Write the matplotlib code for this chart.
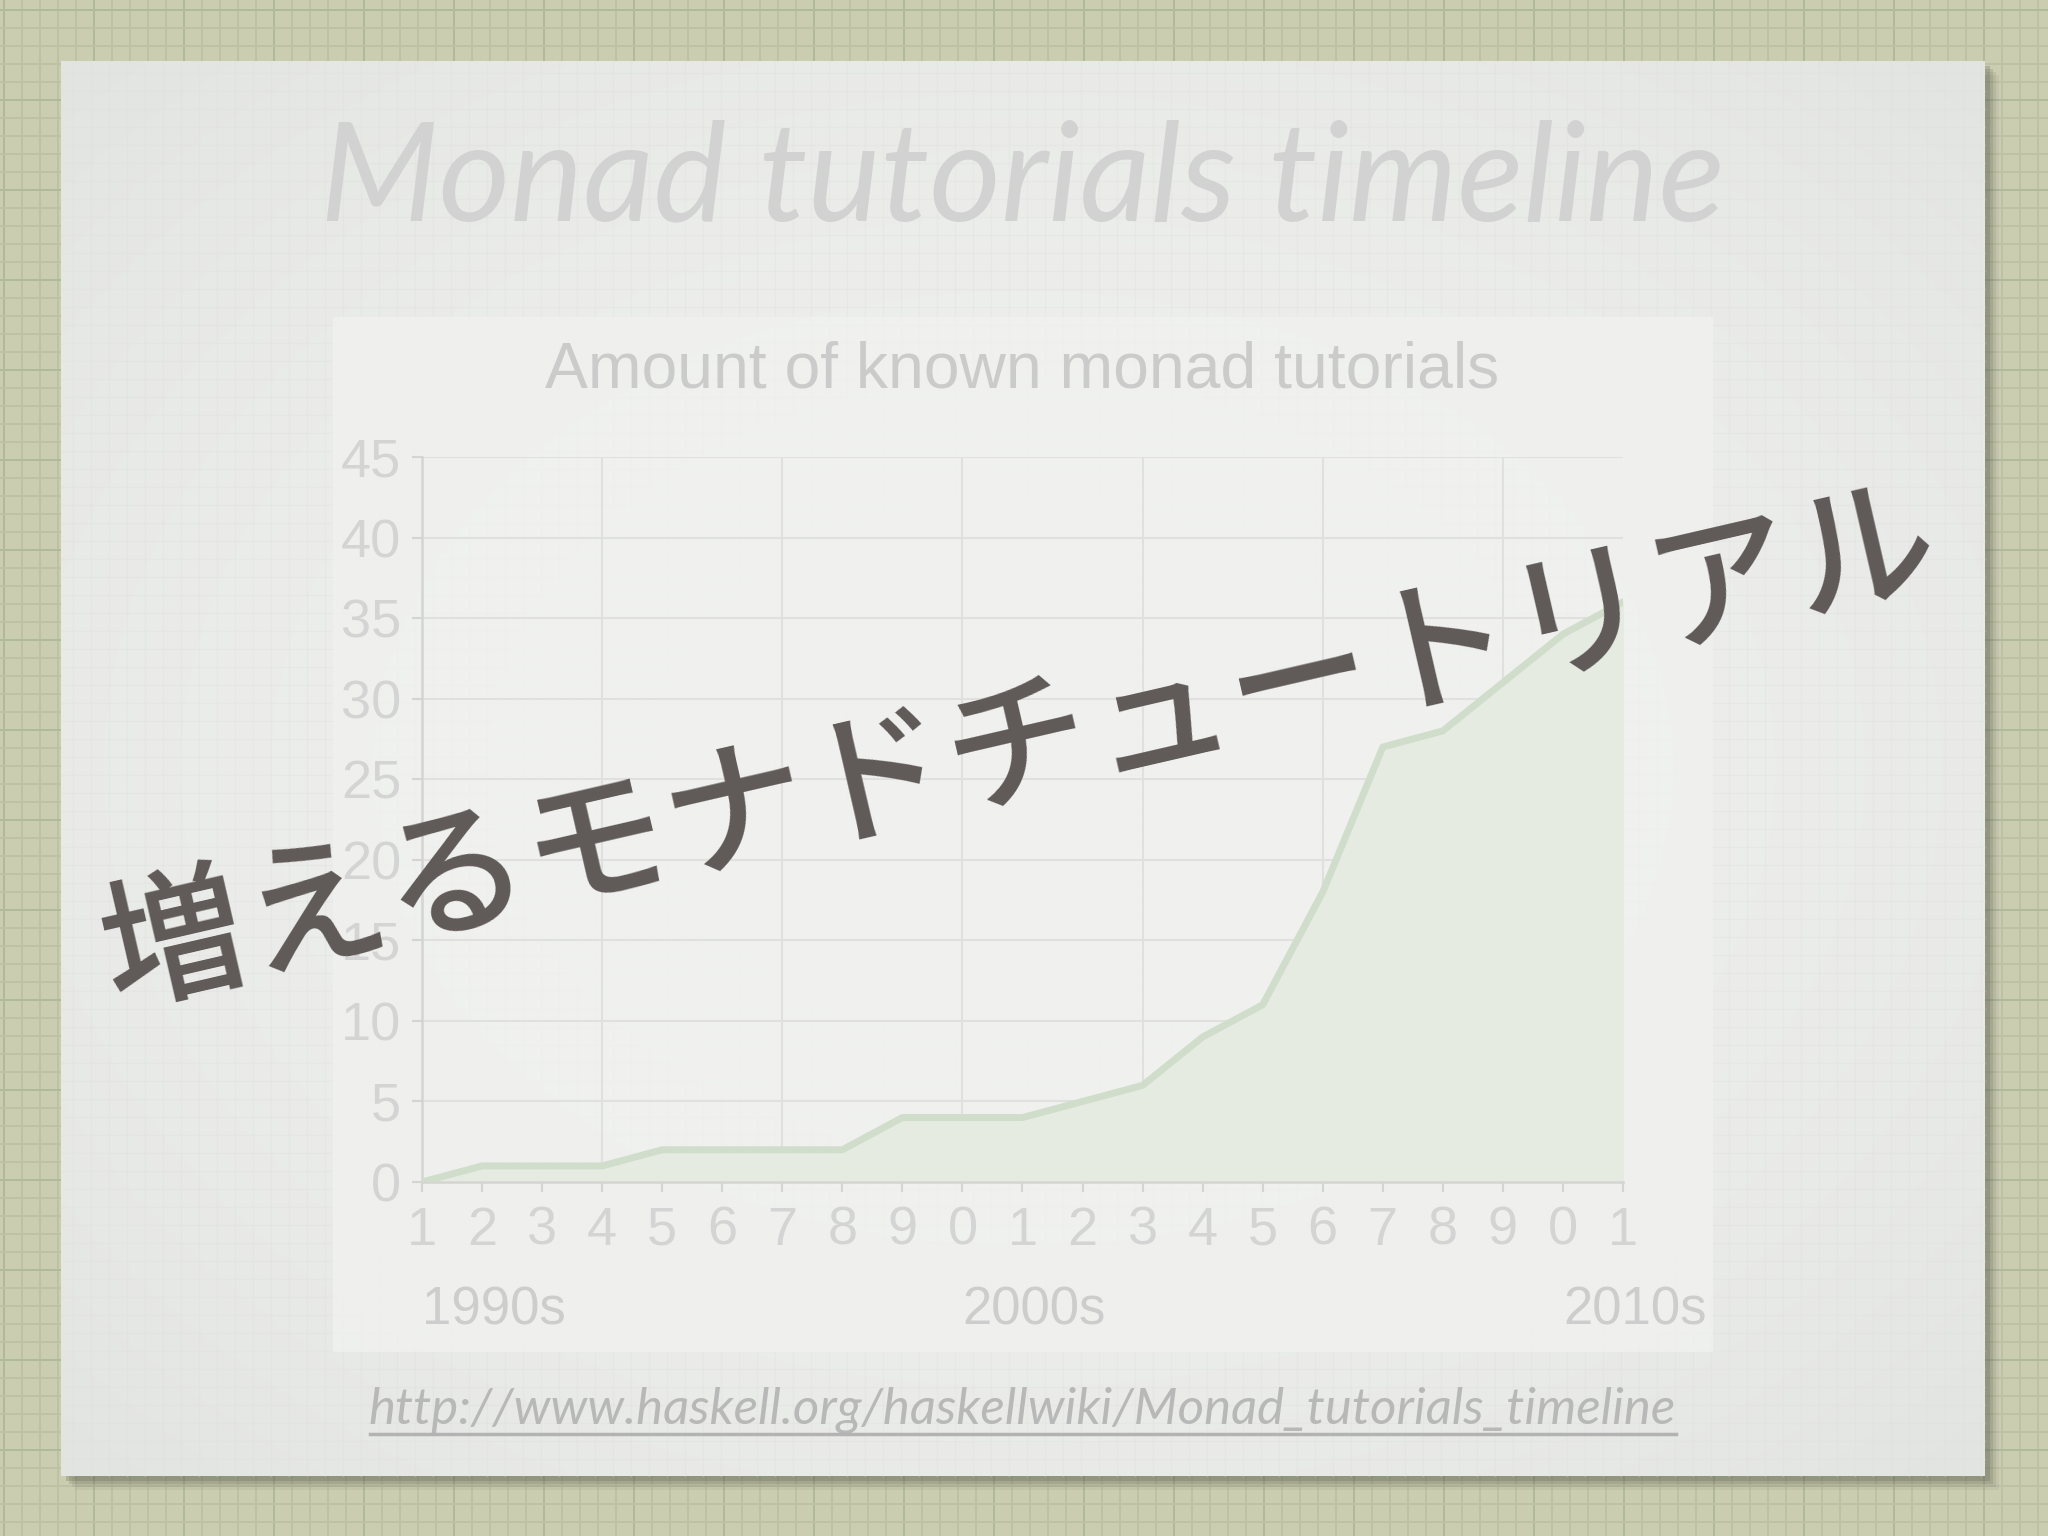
import numpy as np
import matplotlib.pyplot as plt
from matplotlib.patches import Rectangle
from matplotlib.colors import LinearSegmentedColormap
import matplotlib.transforms as mtransforms

# data
years = list(range(1991, 2012))
tutorials = [0, 1, 1, 1, 2, 2, 2, 2, 4, 4, 4, 5, 6, 9, 11, 18, 27, 28, 31, 34, 36]
year_labels = [str(y % 10) for y in years]
grid_years = years[3::3]
decades = ['1990s', '2000s', '2010s']
decade_start = [1991, 2000, 2010]
y_ticks = list(range(0, 50, 5))

slide_title = 'Monad tutorials timeline'
chart_title = 'Amount of known monad tutorials'
source_url = 'http://www.haskell.org/haskellwiki/Monad_tutorials_timeline'
overlay = '増えるモナドチュートリアル'

W, H = 2048, 1536
fig = plt.figure(figsize=(W / 100, H / 100), dpi=100)
renderer = fig.canvas.get_renderer()


def fit_width(txt, width_px):
    w = txt.get_window_extent(renderer=renderer).width
    txt.set_fontsize(txt.get_fontsize() * width_px / w)


# ---- background: grid paper, card, shadow ----
bg = fig.add_axes([0, 0, 1, 1])
bg.set_xlim(0, W)
bg.set_ylim(H, 0)
bg.axis('off')
bg.add_patch(Rectangle((0, 0), W, H, color='#cacdb0', zorder=0))
step = 18
for i, x in enumerate(np.arange(4, W, step)):
    bg.axvline(x, color='#b0b99a' if i % 5 == 0 else '#bec2a5', lw=1.4, zorder=1)
for i, y in enumerate(np.arange(10, H, step)):
    bg.axhline(y, color='#b0b99a' if i % 5 == 0 else '#bec2a5', lw=1.4, zorder=1)

card_x0, card_y0, card_x1, card_y1 = 61, 61, 1985, 1476
for off, a in [(14, 0.08), (11, 0.12), (8, 0.18), (5, 0.25)]:
    bg.add_patch(Rectangle((card_x0 + off, card_y0 + off), card_x1 - card_x0, card_y1 - card_y0,
                           color='#5f634f', alpha=a, lw=0, zorder=2))

gx, gy = np.meshgrid(np.linspace(-1, 1, 200), np.linspace(-1, 1, 150))
shade = 1 - 0.5 * (gx ** 2 + gy ** 2)
card_cmap = LinearSegmentedColormap.from_list('card', ['#e2e4e1', '#f0f1ef'])
bg.imshow(shade, cmap=card_cmap, extent=[card_x0, card_x1, card_y1, card_y0],
          aspect='auto', zorder=3, interpolation='bilinear')
for x in np.arange(card_x0 + 12, card_x1, step):
    bg.plot([x, x], [card_y0, card_y1], color='#dcdfda', lw=1, alpha=0.3, zorder=4)
for y in np.arange(card_y0 + 12, card_y1, step):
    bg.plot([card_x0, card_x1], [y, y], color='#dcdfda', lw=1, alpha=0.3, zorder=4)

bg.add_patch(Rectangle((333, 317), 1380, 1035, color='#f1f2f0', alpha=0.8, lw=0, zorder=5))

t = bg.text(1022, 182, slide_title, ha='center', va='center', color='#d2d2d2',
            fontsize=80, family=['Lato', 'DejaVu Sans'], style='italic', zorder=6)
fit_width(t, 1404)

t = bg.text(1022, 370, chart_title, ha='center', va='center', color='#cbcbcb',
            fontsize=46, family=['Liberation Sans'], zorder=6)
fit_width(t, 952)

t = bg.text(1022, 1410, source_url, ha='center', va='center', color='#b8b8b8',
            fontsize=30, family=['Lato', 'DejaVu Sans'], style='italic', zorder=6)
fit_width(t, 1306)
bg.plot([370, 1676], [1434, 1434], color='#b3b3b3', lw=2.5, zorder=6)

# ---- the faded chart ----
ax = fig.add_axes([422 / W, 1 - 1182 / H, (1623 - 422) / W, (1182 - 457) / H])
ax.patch.set_alpha(0)
ax.fill_between(years, tutorials, color='#e5ebe1', zorder=1)
ax.plot(years, tutorials, color='#d0ddcb', lw=5, solid_joinstyle='round', zorder=3)
for gyear in grid_years:
    ax.axvline(gyear, color='#e0e1df', lw=1.5, zorder=0)
ax.set_yticks(y_ticks)
ax.yaxis.grid(True, color='#e0e1df', lw=1.5)
ax.set_axisbelow(True)
ax.set_xlim(1991, 2011)
ax.set_ylim(0, 45)
ax.set_xticks(years)
ax.set_xticklabels(year_labels)
for s in ['top', 'right']:
    ax.spines[s].set_visible(False)
for s in ['left', 'bottom']:
    ax.spines[s].set_color('#d4d5d3')
    ax.spines[s].set_linewidth(1.8)
ax.tick_params(colors='#d4d5d3', labelcolor='#d4d4d4', length=7, width=1.5,
               labelsize=39)
ax.tick_params(axis='x', pad=10)
ax.tick_params(axis='y', pad=8)
for lbl in ax.get_xticklabels() + ax.get_yticklabels():
    lbl.set_family(['Liberation Sans'])

trans = mtransforms.blended_transform_factory(ax.transData, ax.transAxes)
for name, x in zip(decades, decade_start):
    ax.text(x, -0.177, name, transform=trans, ha='left', va='center', fontsize=38,
            color='#cdcdcd', family=['Liberation Sans'])

# ---- overlay caption ----
fig.text(1020, 752, overlay, transform=bg.transData, rotation=13, rotation_mode='anchor',
         ha='center', va='center', fontsize=104, color='#5f5957', weight='medium',
         family=['Noto Sans CJK JP', 'DejaVu Sans'], zorder=10)

fig.savefig('out.png', dpi=100)
